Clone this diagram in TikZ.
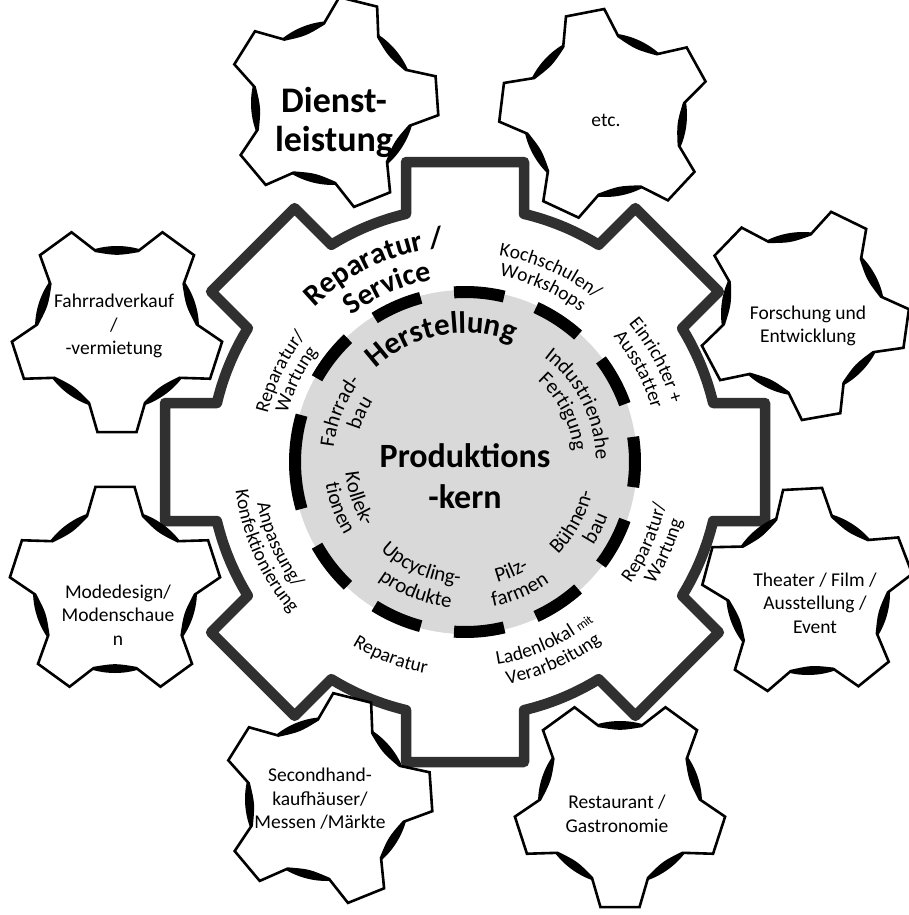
\documentclass[tikz,border=0pt]{standalone}
\usepackage{fontspec}
\setmainfont{Carlito}
\usetikzlibrary{calc,decorations.text}
\definecolor{gearline}{RGB}{48,48,48}
\definecolor{discgray}{RGB}{217,217,217}
\newcommand\ringfnt{\fontsize{19.5}{22}\selectfont}
\newcommand\ringsmall{\fontsize{13}{15}\selectfont}
\newcommand\innerfnt{\fontsize{21}{24}\selectfont}
\newcommand\repfnt{\bfseries\fontsize{30}{34}\selectfont}
\newcommand\herfnt{\bfseries\fontsize{31}{34}\selectfont}
% text on arc, tops outward (clockwise)
\newcommand\Ttop[4]{\path[decorate,decoration={text along path,text align=center,text={|#3|#4}}] ($(C)+(#1+80:#2)$) arc[start angle=#1+80,end angle=#1-80,radius=#2];}
% text on arc, tops inward (counterclockwise)
\newcommand\Tbot[4]{\path[decorate,decoration={text along path,text align=center,text={|#3|#4}}] ($(C)+(#1-80:#2)$) arc[start angle=#1-80,end angle=#1+80,radius=#2];}
% small gear: name, x, y(image), rotation
\newcommand\smallgear[4]{%
  \coordinate (#1) at (#2,-#3);
  \fill[black] (#1) circle (82);
  \draw[sgear] ($(#1)+(#4-20.5:80)$)
    \foreach \k in {0,...,4} {
      -- ($(#1)+(#4+72*\k-20.5:80)$) -- ($(#1)+(#4+72*\k-10.6:106)$)
      -- ($(#1)+(#4+72*\k+10.6:106)$) -- ($(#1)+(#4+72*\k+20.5:80)$)
      .. controls ($(#1)+(#4+72*\k+36:73.6)$) .. ($(#1)+(#4+72*\k+51.5:80)$)
    } -- cycle;}
\tikzset{
  biggear/.style={draw=gearline,line width=10.5pt,line join=round},
  dashring/.style={draw=black,line width=12pt},
  sgear/.style={draw=black,fill=white,line width=2.6pt,line join=miter},
  glabel/.style={font=\fontsize{19.5}{23.5}\selectfont,align=center,inner sep=0pt},
  blabel/.style={font=\bfseries\fontsize{36}{39}\selectfont,align=center,inner sep=0pt}
}
\begin{document}
\begin{tikzpicture}[x=1pt,y=1pt]
\useasboundingbox (0,0) rectangle (908,-915);
\fill[white] (0,0) rectangle (908,-915);
\coordinate (C) at (465,-462);
% inner disc
\fill[discgray] (C) circle (172);
\foreach \a in {-142,-113.6,-85.2,-56.8,-28.4,0,28.4,56.8,85.2,113.6,142}
  \draw[dashring] ($(C)+(\a-8.5:170)$) arc[start angle=\a-8.5,end angle=\a+8.5,radius=170];
\draw[dashring] ($(C)+(164:170)$) arc[start angle=164,end angle=196,radius=170];
% big gear
\draw[biggear] ($(C)+(-13.38:255)$)
  \foreach \a in {0,45,...,315} {
    -- ($(C)+(\a:248.1)+(\a-90:59)$) -- ($(C)+(\a:300)+(\a-90:59)$)
    -- ($(C)+(\a:300)+(\a+90:59)$) -- ($(C)+(\a:248.1)+(\a+90:59)$)
    arc[start angle=\a+13.38,end angle=\a+31.62,radius=255]
  } -- cycle;
% small gears
\smallgear{gD}{333}{103}{4}
\smallgear{gE}{605}{115}{29}
\smallgear{gF}{117}{328}{54}
\smallgear{gR}{803}{314}{-8}
\smallgear{gM}{115}{591}{18}
\smallgear{gT}{808}{593}{21}
\smallgear{gS}{327}{799}{4}
\smallgear{gG}{620}{803}{54}
% gear labels
\node[blabel] (tD) at (334,-122) {Dienst-\\leistung};
\node[glabel] (tE) at (606,-120) {etc.};
\node[glabel] (tF) at (114,-326) {Fahrradverkauf\\/\\-vermietung};
\node[glabel] (tR) at (808,-326) {Forschung und\\Entwicklung};
\node[glabel] (tM) at (118,-615) {Modedesign/\\Modenschaue\\n};
\node[glabel] (tT) at (815,-603) {Theater / Film /\\Ausstellung /\\Event};
\node[glabel] (tS) at (320,-799) {Secondhand-\\kaufhäuser/\\Messen /Märkte};
\node[glabel] (tG) at (617,-814) {Restaurant /\\Gastronomie};
\node[blabel,font=\bfseries\fontsize{34}{41}\selectfont] (tP) at (465,-476) {Produktions\\-kern};
% ring labels
\Ttop{115}{216}{\repfnt}{Reparatur /}
\Ttop{114}{185}{\repfnt}{Service}
\Ttop{66}{209}{\ringfnt}{Kochschulen/}
\Ttop{66}{189}{\ringfnt}{Workshops}
\Ttop{28}{214}{\ringfnt}{Einrichter +}
\Ttop{28}{194}{\ringfnt}{Ausstatter}
\Tbot{-24}{205}{\ringfnt}{Reparatur/}
\Tbot{-24}{225}{\ringfnt}{Wartung}
\Tbot{-66}{205}{\ringfnt}{Ladenlokal |\ringsmall|mit}
\Tbot{-66}{226}{\ringfnt}{Verarbeitung}
\Tbot{-111}{215}{\ringfnt}{Reparatur}
\Tbot{-156}{212}{\ringfnt}{Anpassung/}
\Tbot{-156}{231}{\ringfnt}{Konfektionierung}
\Ttop{154}{203}{\ringfnt}{Reparatur/}
\Ttop{154}{184}{\ringfnt}{Wartung}
% inner labels
\Ttop{101}{129}{\herfnt}{Herstellung}
\Ttop{27}{131}{\innerfnt}{Industrienahe}
\Ttop{27}{109}{\innerfnt}{Fertigung}
\Tbot{-29}{131}{\innerfnt}{Bühnen-}
\Tbot{-27}{153}{\innerfnt}{bau}
\Tbot{-67}{125}{\innerfnt}{Pilz-}
\Tbot{-67}{147}{\innerfnt}{farmen}
\Tbot{-113}{122}{\innerfnt}{Upcycling-}
\Tbot{-111}{146}{\innerfnt}{produkte}
\Tbot{-161}{120}{\innerfnt}{Kollek-}
\Tbot{-160}{141}{\innerfnt}{tionen}
\Ttop{158}{132}{\innerfnt}{Fahrrad-}
\Ttop{155}{110}{\innerfnt}{bau}
\end{tikzpicture}
\end{document}
